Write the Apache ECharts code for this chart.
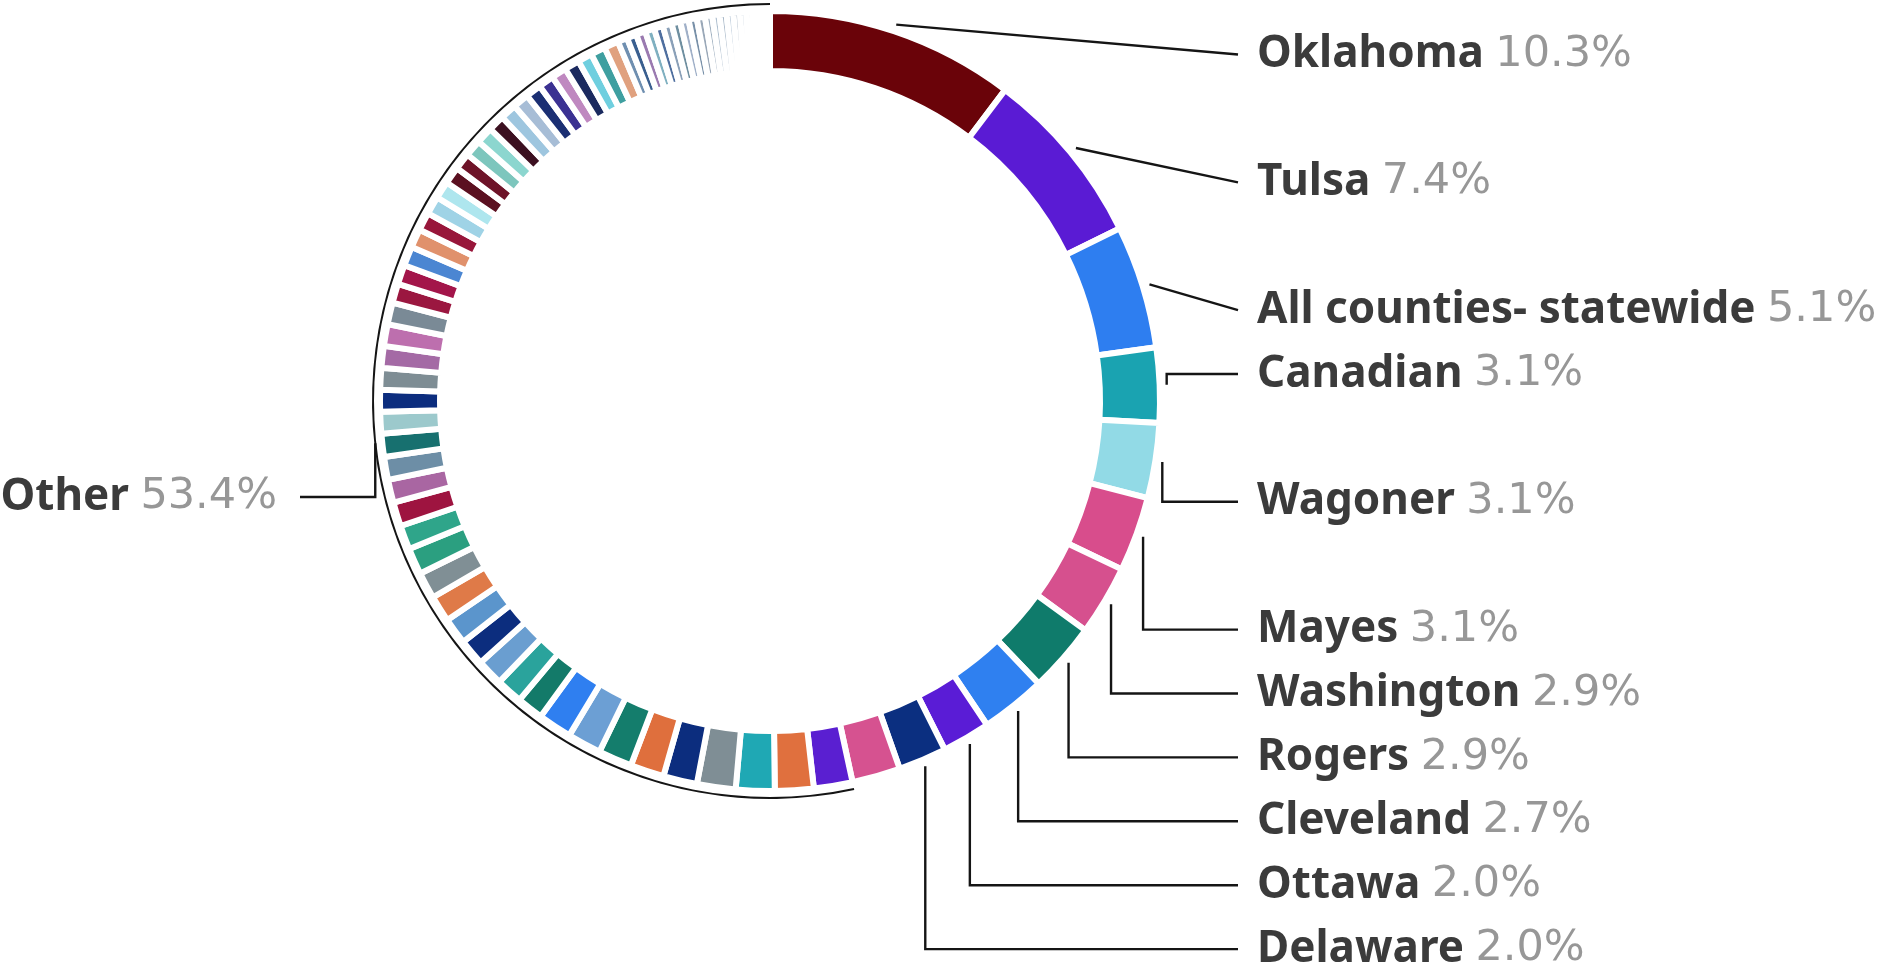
<!DOCTYPE html>
<html>
<head>
<meta charset="utf-8">
<script src="https://cdn.jsdelivr.net/npm/echarts@6/dist/echarts.min.js"></script>
<style>
  html, body { margin: 0; padding: 0; background: #ffffff; }
  #chart { width: 1888px; height: 966px; }
</style>
</head>
<body>
<div id="chart"></div>
<script>
// ---------- data (shares in %) ----------
const namedCounties = ['Oklahoma', 'Tulsa', 'All counties- statewide', 'Canadian', 'Wagoner',
  'Mayes', 'Washington', 'Rogers', 'Cleveland', 'Ottawa', 'Delaware'];
const namedShares = [10.3, 7.4, 5.1, 3.1, 3.1, 3.1, 2.9, 2.9, 2.7, 2.0, 2.0];
// slice drawn without its own label, before the "Other" group
const unlabeledShares = [2.0];
// the small slices grouped as "Other"
const otherShares = [
  1.6, 1.6, 1.6, 1.6,
  1.4, 1.4, 1.4, 1.4, 1.4,
  1.1, 1.1, 1.1, 1.1, 1.1, 1.1, 1.1, 1.1,
  1.0, 1.0, 0.95, 0.95, 0.95, 0.9, 0.9, 0.9, 0.9, 0.9, 0.9,
  0.8, 0.8, 0.8, 0.78, 0.75, 0.75, 0.72, 0.72, 0.7, 0.7, 0.7, 0.68, 0.68, 0.66, 0.65, 0.64, 0.62, 0.62, 0.6, 0.6, 0.6,
  0.4, 0.4, 0.39, 0.38, 0.37, 0.37, 0.36, 0.35, 0.34, 0.34,
  0.3, 0.3, 0.29, 0.28, 0.27, 0.26, 0.25, 0.24, 0.22, 0.2, 0.06
];
const otherName = 'Other';

// ---------- styles ----------
const namedColors = ['#6a0309', '#5a1bd4', '#2e7ef0', '#1aa3b1', '#92dae6', '#d84d8c',
  '#d6508e', '#0f7b6b', '#2f80f0', '#5a1cd6', '#0b2f80'];
const unlabeledColors = ['#d65290'];
const otherColors = [
  '#5a1fd1', '#e0703e', '#1fa8b4', '#7f8e95',
  '#0c2d7e', '#df6f3d', '#147d6c', '#6c9fd4', '#2f7ff0',
  '#137a69', '#2aa39c', '#6a9ed0', '#0c2d7e', '#5b95cc', '#df7a48', '#808f95', '#2b9f80',
  '#2fa58a', '#9e1440', '#a966a2', '#6d8ea6', '#17706f', '#9cc9cc', '#0c2d7e', '#7e8d94', '#a46aa5', '#bd6fae', '#7a8a96',
  '#9b1740', '#a3154a', '#4b86d2', '#e0916c', '#98163a', '#9fd3e6', '#aee6ee', '#5b1020', '#6e1328', '#7dc6bd', '#8cd6cf',
  '#3c1020', '#9ec6df', '#a7bdd6', '#1b2f73', '#3b3192', '#bf88c0', '#1b2a5f', '#6fcfdf', '#3f9fa0', '#e0a17f',
  '#6f8fb0', '#3a5f8f', '#9a7ab0', '#7fb0c0', '#4f6f9f', '#8aa0b8', '#6f8fa0', '#a0b0c8', '#7890a8', '#9aa8b8',
  '#a0b0c0', '#b0c0d0', '#a8b8c8', '#b8c8d8', '#a0b0c0', '#b0c0d0', '#a8b8c8', '#b8c8d8', '#a0b0c0', '#b0c0d0', '#a8b8c8'
];

// ---------- layout ----------
const centre = [770, 401];
const ringRadius = [330, 390];
const gapWidth = 6;
const bracketRadius = [396, 398];
const leaderRadius = 397;
const labelSlot = [0, 2, 4, 5, 7, 9, 10, 11, 12, 13, 14];
const slotTop = 54.5, slotStep = 63.9;
const rightLineEndX = 1238, rightTextX = 1257;
const otherLabelY = 497, otherLineEndX = 300, otherTextRightX = 277;
const nameFont = '"Noto Sans", "DejaVu Sans", sans-serif';
const valueFont = '"DejaVu Sans", "Noto Sans", sans-serif';
const lineColour = '#151515';

const sum = a => a.reduce((s, v) => s + v, 0);

const rich = {
  n: { fontFamily: nameFont, fontWeight: 'bold', fontSize: 44, color: '#3b3b3b' },
  v: { fontFamily: valueFont, fontWeight: 'normal', fontSize: 43, color: '#979797' }
};
const fmt = p => '{n|' + p.name + '} {v|' + Number(p.value).toFixed(1) + '%}';

function leaderStart(params) {
  const pts = params.labelLinePoints;
  let dx, dy;
  if (pts && pts[0]) {
    dx = pts[0][0] - centre[0];
    dy = pts[0][1] - centre[1];
  } else {
    dx = params.rect.x + params.rect.width / 2 - centre[0];
    dy = params.rect.y + params.rect.height / 2 - centre[1];
  }
  const len = Math.sqrt(dx * dx + dy * dy) || 1;
  return [centre[0] + dx / len * leaderRadius, centre[1] + dy / len * leaderRadius];
}

const pieValues = namedShares.concat(unlabeledShares, otherShares);
const pieColors = namedColors.concat(unlabeledColors, otherColors);
const pieNames = namedCounties.concat(
  pieValues.slice(namedCounties.length).map((_, k) => 'County ' + (namedCounties.length + k + 1)));

const mainData = pieValues.map((v, i) => ({
  name: pieNames[i],
  value: v,
  itemStyle: { color: pieColors[i % pieColors.length] },
  label: { show: i < namedCounties.length },
  labelLine: { show: i < namedCounties.length }
}));

const shownTotal = sum(namedShares) + sum(unlabeledShares);
const otherTotal = sum(otherShares);

const chart = echarts.init(document.getElementById('chart'), null, { renderer: 'canvas' });
chart.setOption({
  animation: false,
  backgroundColor: '#ffffff',
  series: [
    {
      type: 'pie',
      center: centre,
      radius: ringRadius,
      startAngle: 90,
      clockwise: true,
      avoidLabelOverlap: false,
      silent: true,
      itemStyle: { borderColor: '#ffffff', borderWidth: gapWidth },
      label: { show: false, position: 'outside', formatter: fmt, rich: rich, fontSize: 44, fontFamily: nameFont, overflow: 'none' },
      labelLine: { show: false, length: 10, length2: 10, lineStyle: { color: lineColour, width: 2.4 } },
      labelLayout: function (params) {
        const i = params.dataIndex;
        if (i >= namedCounties.length) return {};
        const s = leaderStart(params);
        const y = slotTop + labelSlot[i] * slotStep;
        const ang = Math.atan2(s[0] - centre[0], centre[1] - s[1]) * 180 / Math.PI;
        const straight = ang >= 0 && ang < 80;
        return {
          x: rightTextX, y: y, align: 'left', verticalAlign: 'middle',
          labelLinePoints: straight
            ? [s, [rightLineEndX, y], [rightLineEndX, y]]
            : [s, [s[0], y], [rightLineEndX, y]]
        };
      },
      data: mainData
    },
    {
      type: 'pie',
      center: centre,
      radius: bracketRadius,
      startAngle: 90,
      clockwise: true,
      silent: true,
      avoidLabelOverlap: false,
      itemStyle: { borderWidth: 0 },
      label: { show: false, position: 'outside', formatter: fmt, rich: rich, fontSize: 44, fontFamily: nameFont, overflow: 'none' },
      labelLine: { show: false, length: 10, length2: 10, lineStyle: { color: lineColour, width: 2.4 } },
      labelLayout: function (params) {
        if (params.dataIndex !== 1) return {};
        const s = leaderStart(params);
        return {
          x: otherTextRightX, y: otherLabelY, align: 'right', verticalAlign: 'middle',
          labelLinePoints: [s, [s[0], otherLabelY], [otherLineEndX, otherLabelY]]
        };
      },
      data: [
        { name: 'shown', value: shownTotal, itemStyle: { color: 'rgba(0,0,0,0)' } },
        { name: otherName, value: otherTotal, itemStyle: { color: lineColour },
          label: { show: true }, labelLine: { show: true } }
      ]
    }
  ]
});
</script>
</body>
</html>
